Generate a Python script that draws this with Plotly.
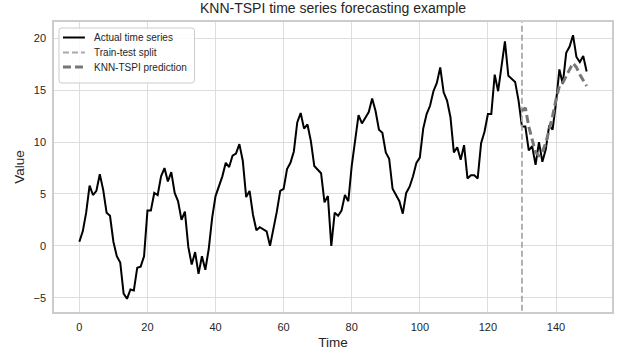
import plotly.graph_objects as go

time_idx = list(range(150))
actual = [
    0.4, 1.4, 3.2, 5.8, 4.9, 5.3, 6.9, 5.4, 3.2, 2.9,
    0.4, -1.0, -1.6, -4.6, -5.1, -4.2, -4.3, -2.1, -2.0, -1.0,
    3.4, 3.4, 5.1, 4.9, 6.7, 7.5, 6.2, 7.1, 5.1, 4.3,
    2.5, 3.3, -0.1, -1.8, -0.6, -2.7, -1.0, -2.3, -0.3, 2.7,
    4.8, 5.7, 6.7, 8.0, 7.6, 8.7, 8.9, 9.8, 8.2, 4.7,
    5.3, 3.0, 1.5, 1.8, 1.6, 1.4, 0.0, 1.5, 3.3, 5.3,
    5.5, 7.4, 8.0, 9.1, 11.9, 12.8, 11.3, 11.7, 10.1, 7.7,
    7.3, 7.0, 4.2, 4.8, 0.0, 3.2, 2.9, 3.4, 4.9, 4.3,
    7.7, 10.3, 12.6, 11.8, 12.3, 12.9, 14.2, 13.0, 11.2, 10.9,
    9.0, 8.4, 5.5, 4.9, 4.3, 3.1, 5.1, 5.7, 6.7, 8.0,
    8.5, 11.3, 12.7, 13.5, 14.9, 15.7, 17.2, 14.8, 14.0, 12.4,
    9.0, 9.5, 8.3, 9.7, 6.5, 6.8, 6.8, 6.5, 9.9, 11.0,
    12.7, 12.7, 16.5, 14.9, 17.4, 19.7, 16.4, 16.1, 15.8, 14.0,
    11.5, 11.5, 9.2, 9.6, 7.8, 10.0, 8.1, 9.3, 11.6, 11.2,
    13.8, 17.0, 15.6, 18.6, 19.2, 20.3, 18.2, 17.7, 18.3, 16.8,
]
pred_idx = list(range(130, 150))
prediction = [
    13.0, 13.3, 11.5, 10.3, 9.0, 8.7, 9.1, 9.9, 11.2, 12.5,
    14.1, 15.4, 15.7, 16.4, 17.0, 17.6, 17.2, 16.5, 15.9, 15.4,
]
split_point = 130
x_ticks = [0, 20, 40, 60, 80, 100, 120, 140]
y_ticks = [-5, 0, 5, 10, 15, 20]
legend_names = ["Actual time series", "Train-test split", "KNN-TSPI prediction"]

W, H = 617, 353
ML, MR, MT, MB = 54, 3, 22, 41
PW, PH = W - ML - MR, H - MT - MB


def px_x(p):
    return (p - ML) / PW


def px_y(p):
    return (H - MB - p) / PH


ymin, ymax = min(actual), max(actual)
ypad = (ymax - ymin) * 0.05
xpad = (time_idx[-1] - time_idx[0]) * 0.05

styles = [
    dict(color="black", width=2),
    dict(color="#aaaaaa", width=1.8, dash="6px,3px"),
    dict(color="#777777", width=3, dash="8px,4px"),
]

fig = go.Figure()
fig.add_trace(go.Scatter(x=time_idx, y=actual, mode="lines", name=legend_names[0],
                         line=styles[0], showlegend=False))
fig.add_trace(go.Scatter(x=[split_point, split_point], y=[ymin - 5 * ypad, ymax + 5 * ypad],
                         mode="lines", name=legend_names[1], line=styles[1], showlegend=False))
fig.add_trace(go.Scatter(x=pred_idx, y=prediction, mode="lines", name=legend_names[2],
                         line=styles[2], showlegend=False))

# custom legend (matplotlib-like compact box)
bx0, bx1, by0, by1, r = 59, 195, 28, 83, 3
path = (f"M {px_x(bx0 + r)} {px_y(by0)} L {px_x(bx1 - r)} {px_y(by0)} "
        f"Q {px_x(bx1)} {px_y(by0)} {px_x(bx1)} {px_y(by0 + r)} "
        f"L {px_x(bx1)} {px_y(by1 - r)} Q {px_x(bx1)} {px_y(by1)} {px_x(bx1 - r)} {px_y(by1)} "
        f"L {px_x(bx0 + r)} {px_y(by1)} Q {px_x(bx0)} {px_y(by1)} {px_x(bx0)} {px_y(by1 - r)} "
        f"L {px_x(bx0)} {px_y(by0 + r)} Q {px_x(bx0)} {px_y(by0)} {px_x(bx0 + r)} {px_y(by0)} Z")
shapes = [dict(type="path", path=path, xref="paper", yref="paper",
               fillcolor="rgba(255,255,255,0.85)", line=dict(color="#cccccc", width=1))]
annotations = []
rows = [37.5, 52.5, 67]
for name, st, ry in zip(legend_names, styles, rows):
    shapes.append(dict(type="line", xref="paper", yref="paper",
                       x0=px_x(63), x1=px_x(85), y0=px_y(ry), y1=px_y(ry), line=dict(st)))
    annotations.append(dict(text=name, xref="paper", yref="paper", x=px_x(92), y=px_y(ry),
                            xanchor="left", yanchor="middle", showarrow=False,
                            font=dict(size=10, color="#262626")))

font = "Liberation Sans, Arial, sans-serif"
fig.update_layout(
    width=W, height=H,
    margin=dict(l=ML, r=MR, t=MT, b=MB),
    paper_bgcolor="white", plot_bgcolor="white",
    font=dict(family=font, color="#262626", size=11),
    title=dict(text="KNN-TSPI time series forecasting example", x=0.5, xref="paper",
               xanchor="center", y=1, yref="container", yanchor="top", pad=dict(t=3),
               font=dict(size=14, color="#262626", family=font)),
    showlegend=False,
    shapes=shapes,
    annotations=annotations,
)
fig.update_xaxes(range=[time_idx[0] - xpad, time_idx[-1] + xpad], tickvals=x_ticks,
                 showgrid=True, gridcolor="#dddddd", gridwidth=1, zeroline=False,
                 showline=True, linecolor="#cccccc", linewidth=1.5, mirror=True,
                 ticks="", ticklen=0, ticklabelstandoff=4,
                 title=dict(text="Time", font=dict(size=13.5), standoff=6))
fig.update_yaxes(range=[ymin - ypad, ymax + ypad], tickvals=y_ticks,
                 ticktext=["\u22125", "0", "5", "10", "15", "20"],
                 showgrid=True, gridcolor="#dddddd", gridwidth=1, zeroline=False,
                 showline=True, linecolor="#cccccc", linewidth=1.5, mirror=True,
                 ticks="", ticklen=0, ticklabelstandoff=4,
                 title=dict(text="Value", font=dict(size=13.5), standoff=6))

fig.write_html("out.html")
